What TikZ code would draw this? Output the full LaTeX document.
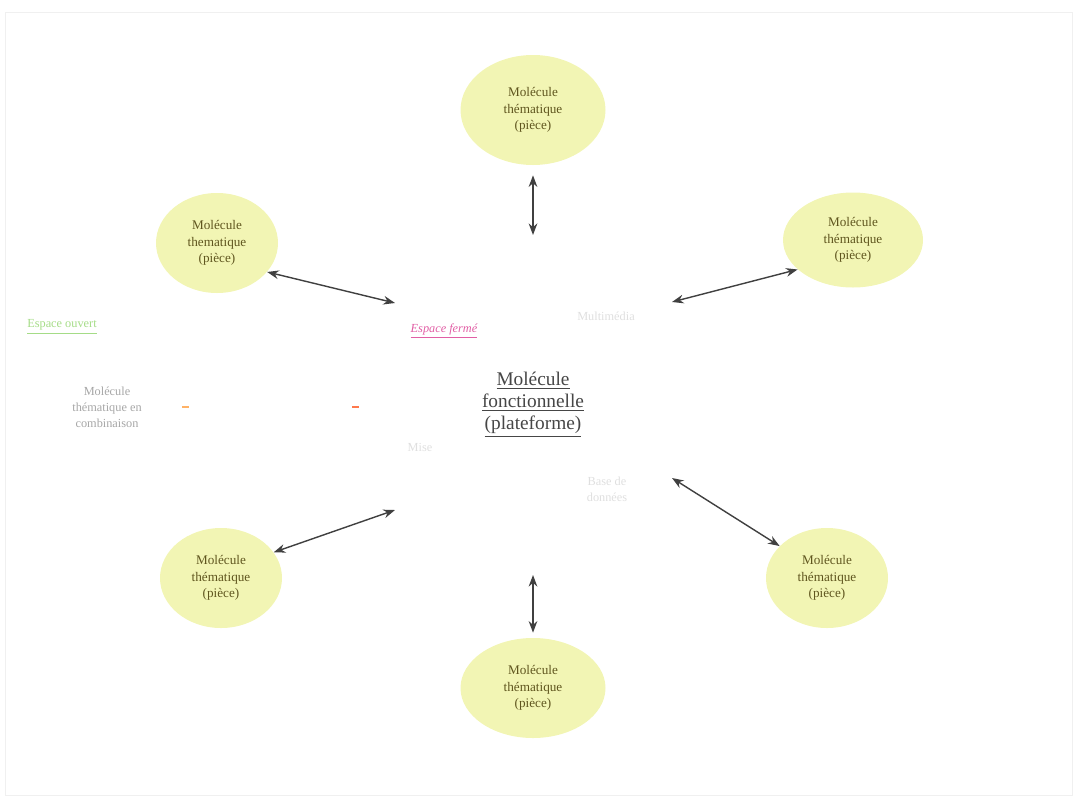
\documentclass[tikz,border=0pt]{standalone}
\usepackage{fontspec}
\setmainfont{Liberation Serif}
\usepackage{xcolor}
\usepackage{tikz}
\usetikzlibrary{arrows.meta,shapes.geometric}

\definecolor{molfill}{RGB}{242,245,180}
\definecolor{moltext}{RGB}{95,85,30}
\definecolor{plattext}{RGB}{70,70,70}
\definecolor{fermecol}{RGB}{225,95,165}
\definecolor{ouvertcol}{RGB}{165,220,135}

\tikzset{
 molecule/.style={ellipse, fill=molfill, text=moltext, align=center,
   font=\fontsize{7.5}{9.5}\selectfont, inner sep=0pt},
 faint/.style={text=gray!25, align=center, font=\fontsize{7}{9}\selectfont},
 conn/.style={Stealth-Stealth, line width=0.8pt, draw=black!75}
}

\begin{document}
\begin{tikzpicture}[x=0.2mm, y=-0.2mm]
 \useasboundingbox (0,0) rectangle (1081,806);
 \draw [gray!12] (5,12) rectangle (1072,795);

 % molecules thematiques
 \node [molecule, minimum width=29mm, minimum height=22mm] (top) at (533,110) {Molécule\\thématique\\(pièce)};
 \node [molecule, minimum width=24.4mm, minimum height=20mm] (ul) at (217,243) {Molécule\\thematique\\(pièce)};
 \node [molecule, minimum width=28mm, minimum height=19mm] (ur) at (853,240) {Molécule\\thématique\\(pièce)};
 \node [molecule, minimum width=24.4mm, minimum height=20mm] (ll) at (221,578) {Molécule\\thématique\\(pièce)};
 \node [molecule, minimum width=24.4mm, minimum height=20mm] (lr) at (827,578) {Molécule\\thématique\\(pièce)};
 \node [molecule, minimum width=29mm, minimum height=20mm] (bt) at (533,688) {Molécule\\thématique\\(pièce)};

 % plateforme
 \node [text=plattext, align=center, font=\fontsize{11}{12.5}\selectfont] (plat) at (533,405)
   {\underline{Molécule}\\\underline{fonctionnelle}\\\underline{(plateforme)}};

 \node [text=ouvertcol, font=\fontsize{7}{9}\selectfont] (ouvert) at (62,327) {\underline{Espace ouvert}};
 \node [text=fermecol, font=\fontsize{7}{9}\itshape] (ferme) at (444,331) {\underline{Espace fermé}};
 \node [text=gray!70, align=center, font=\fontsize{7}{9}\selectfont] (combi) at (107,407) {Molécule\\thématique en\\combinaison};
 \node [faint] (multi) at (606,316) {Multimédia};
 \node [faint] (mise) at (420,447) {Mise};
 \node [faint] (base) at (607,489) {Base de\\données};

 \coordinate (om1) at (182,407);
 \coordinate (om2) at (352,407);
 \draw [orange!60, line width=1.5pt] (om1) -- ++(7,0);
 \draw [red!50!orange!70, line width=1.5pt] (om2) -- ++(7,0);

 % extremites interieures
 \coordinate (ct) at (533,235);
 \coordinate (cul) at (395,303);
 \coordinate (cur) at (672,302);
 \coordinate (cll) at (395,510);
 \coordinate (clr) at (672,478);
 \coordinate (cb) at (533,575);

 \draw [conn, shorten <=2mm] (top.south) -- (ct);
 \draw [conn] (ul.-30) -- (cul);
 \draw [conn] (ur.208) -- (cur);
 \draw [conn] (ll.26) -- (cll);
 \draw [conn] (lr.146) -- (clr);
 \draw [conn, shorten <=1mm] (bt.north) -- (cb);
\end{tikzpicture}
\end{document}
